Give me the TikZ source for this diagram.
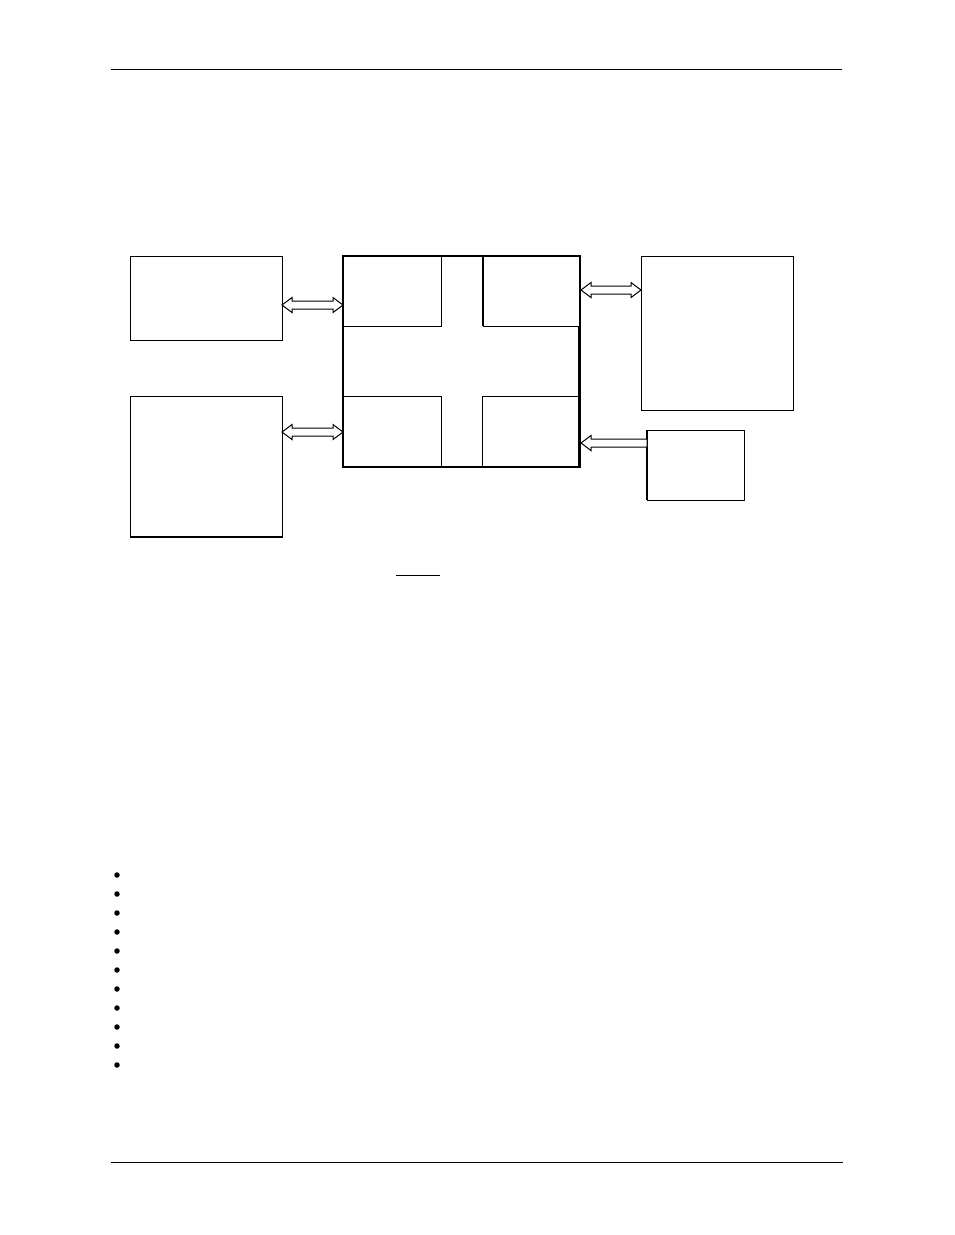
\documentclass[tikz,border=0pt]{standalone}
\usetikzlibrary{calc}
\begin{document}
\begin{tikzpicture}[x=1pt,y=-1pt,
  thinbox/.style={draw=black,line width=1pt,fill=none},
  thickbox/.style={draw=black,line width=2.5pt,fill=none},
  rulestyle/.style={draw=black,line width=0.8pt},
  hollowarrow/.style={draw=black,line width=1pt,fill=white,line join=miter},
  bulletdot/.style={circle,fill=black,inner sep=0pt,minimum size=5.5pt}]
\useasboundingbox (0,0) rectangle (954,1235);
% header / footer rules
\coordinate (r1a) at (111,69); \coordinate (r1b) at (842,69);
\coordinate (r2a) at (111,1162); \coordinate (r2b) at (843,1162);
\draw[rulestyle] (r1a) -- (r1b);
\draw[rulestyle] (r2a) -- (r2b);
% left boxes
\draw[thinbox] (130,256) rectangle (282,340);
\coordinate (lt) at (282,305);
\draw[thinbox] (130,396) rectangle (282,537);
\draw[line width=2pt] (130,537) -- (282,537);
\coordinate (lb) at (282,432);
% central box and inner boxes
\draw[thinbox] (343,256) rectangle (441,326);
\draw[thinbox] (483,256) rectangle (580,326);
\draw[line width=2pt] (483,256) -- (483,326);
\draw[thinbox] (343,396) rectangle (441,467);
\draw[thinbox] (482,396) rectangle (578,467);
\draw[thickbox] (343,256) rectangle (580,467);
\draw[line width=2pt] (579,326) -- (579,467);
\coordinate (cl1) at (343,305);
\coordinate (cl2) at (343,432);
\coordinate (cr1) at (581,290);
\coordinate (cr2) at (581,443);
% right boxes
\draw[thinbox] (641,256) rectangle (793,410);
\coordinate (rt) at (641,290);
\draw[thinbox] (647,430) rectangle (744,500);
\draw[line width=1.5pt] (647,430) -- (647,500);
\coordinate (rb) at (647,443);
% double hollow arrows
\foreach \a/\b in {lt/cl1, lb/cl2, cr1/rt}{
  \draw[hollowarrow] let \p1=(\a), \p2=(\b), \n1={\x2-\x1-20pt} in
    (\p1) -- ++(10,-7.5) -- ++(0,3.5) -- ++(\n1,0) -- ++(0,-3.5) -- (\p2)
    -- ++(-10,7.5) -- ++(0,-3.5) -- ++(-\n1,0) -- ++(0,3.5) -- cycle;
}
% single hollow arrow pointing left
\draw[hollowarrow] let \p1=(cr2), \p2=(rb), \n1={\x2-\x1-10pt} in
  (\p1) -- ++(10,-7.5) -- ++(0,3.5) -- ++(\n1,0) -- ++(0,8) -- ++(-\n1,0) -- ++(0,3.5) -- cycle;
% underline
\coordinate (ua) at (396,575); \coordinate (ub) at (440,575);
\draw[line width=1pt] (ua) -- (ub);
% bullets
\foreach \i in {0,...,10}{
  \node[bulletdot] (b\i) at (117,875+19*\i) {};
}
\end{tikzpicture}
\end{document}
